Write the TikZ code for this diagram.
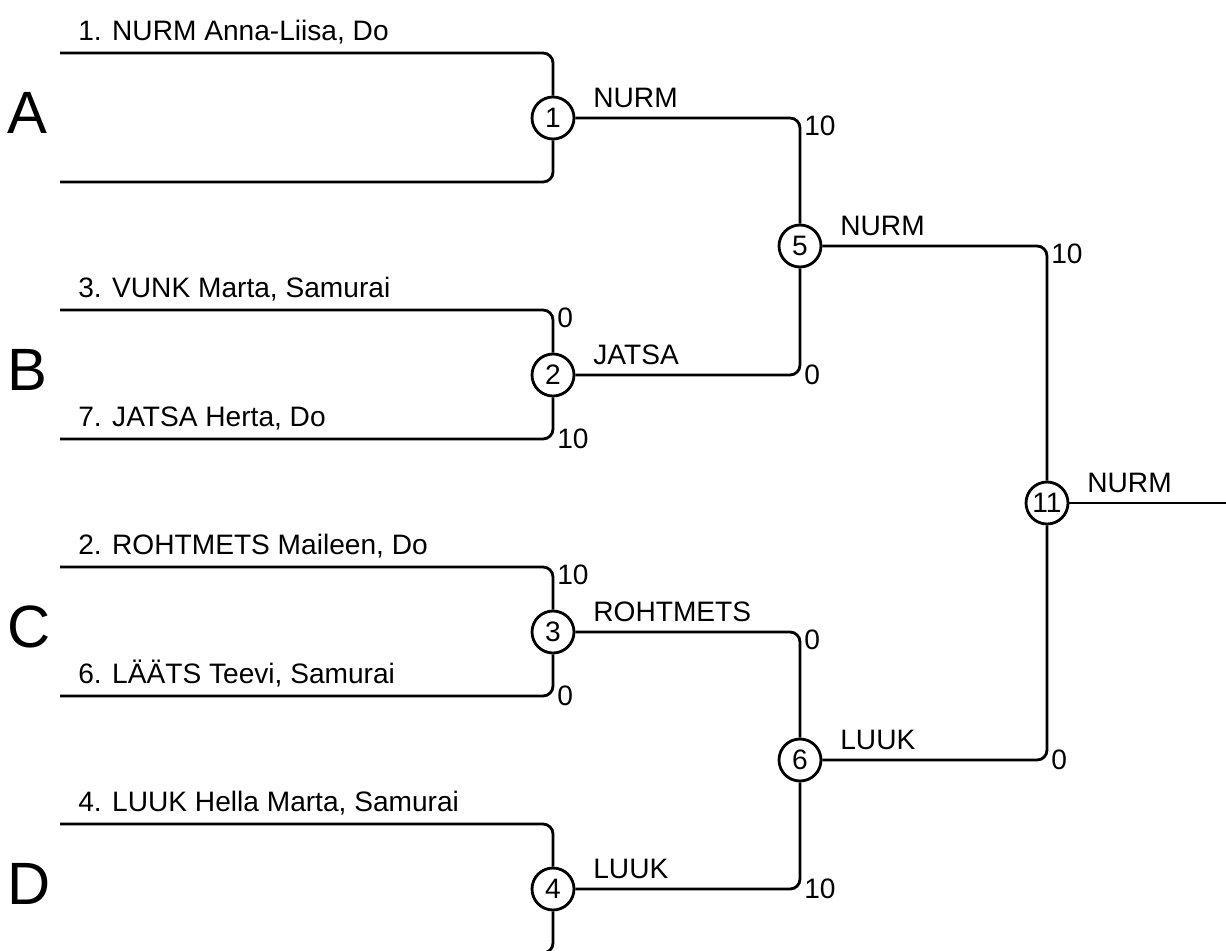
\documentclass[tikz,border=0pt]{standalone}
\usepackage{fontspec}
\setmainfont{Liberation Sans}
\newcommand{\lblfont}{\fontsize{16}{19}\selectfont}
\newcommand{\grpfont}{\fontsize{34}{38}\selectfont}
\tikzset{
  bracket/.style={line width=1.6pt, rounded corners=0.2cm},
  match/.style={circle, draw, line width=1.6pt, minimum size=0.84cm, inner sep=0pt, font=\lblfont, fill=white},
  player/.style={anchor=base west, font=\lblfont, inner sep=0pt},
  winner/.style={anchor=base west, font=\lblfont, inner sep=0pt},
  score/.style={font=\lblfont, inner sep=0pt, xshift=0.08cm},
  group/.style={anchor=base west, font=\grpfont, inner sep=0pt},
}
\begin{document}
\begin{tikzpicture}[x=0.02cm, y=-0.02cm]
  \useasboundingbox (0,0) rectangle (1226,950);
  \clip (0,0) rectangle (1226,950);
  % first round
  \foreach \i/\y/\g in {1/118/A, 2/375/B, 3/632/C, 4/889/D}{
      \node[match] (m\i) at (553,\y) {\i};
      \coordinate (t\i) at (60,\y-65);
      \coordinate (b\i) at (60,\y+64);
      \draw[bracket] (t\i) -| (m\i);
      \draw[bracket] (b\i) -| (m\i);
      \node[group] (g\i) at (7,\y+15) {\g};
  }
  % later rounds
  \node[match] (m5) at (800,246) {5};
  \node[match] (m6) at (800,760) {6};
  \node[match] (m11) at (1047,503) {11};
  \coordinate (champ) at (1226,503);
  \draw[bracket] (m1) -| (m5);
  \draw[bracket] (m2) -| (m5);
  \draw[bracket] (m3) -| (m6);
  \draw[bracket] (m4) -| (m6);
  \draw[bracket] (m5) -| (m11);
  \draw[bracket] (m6) -| (m11);
  \draw[bracket] (m11) -- (champ);
  % players
  \node[player] (n1) at ([shift={(18,-13)}]t1) {1. NURM Anna-Liisa, Do};
  \node[player] (n3) at ([shift={(18,-13)}]t2) {3. VUNK Marta, Samurai};
  \node[player] (n7) at ([shift={(18,-13)}]b2) {7. JATSA Herta, Do};
  \node[player] (n2) at ([shift={(18,-13)}]t3) {2. ROHTMETS Maileen, Do};
  \node[player] (n6) at ([shift={(18,-13)}]b3) {6. LÄÄTS Teevi, Samurai};
  \node[player] (n4) at ([shift={(18,-13)}]t4) {4. LUUK Hella Marta, Samurai};
  % winners
  \foreach \m/\w in {m1/NURM, m2/JATSA, m3/ROHTMETS, m4/LUUK, m5/NURM, m6/LUUK, m11/NURM}{
      \node[winner] (w\m) at ([shift={(40,-11)}]\m) {\w};
  }
  % scores
  \node[score, anchor=north west, yshift=0.04cm] (s2a) at (m2 |- t2) {0};
  \node[score, anchor=west] (s2b) at (m2 |- b2) {10};
  \node[score, anchor=north west, yshift=0.04cm] (s3a) at (m3 |- t3) {10};
  \node[score, anchor=west] (s3b) at (m3 |- b3) {0};
  \node[score, anchor=north west, yshift=0.04cm] (s5a) at (m5 |- m1) {10};
  \node[score, anchor=west] (s5b) at (m5 |- m2) {0};
  \node[score, anchor=north west, yshift=0.04cm] (s6a) at (m6 |- m3) {0};
  \node[score, anchor=west] (s6b) at (m6 |- m4) {10};
  \node[score, anchor=north west, yshift=0.04cm] (s11a) at (m11 |- m5) {10};
  \node[score, anchor=west] (s11b) at (m11 |- m6) {0};
\end{tikzpicture}
\end{document}
